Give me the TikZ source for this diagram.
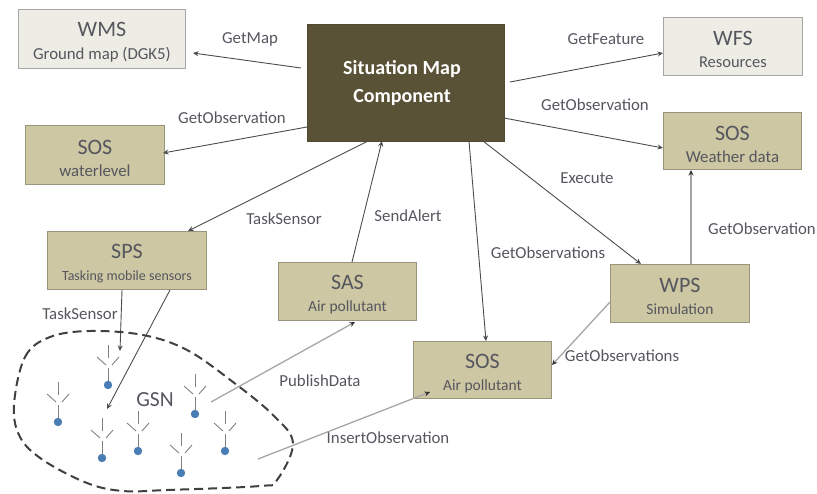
\documentclass[tikz,border=0pt]{standalone}
\usepackage{fontspec}
\setmainfont{Carlito}
\usetikzlibrary{arrows.meta}
\definecolor{tan}{HTML}{CDC7A3}
\definecolor{pale}{HTML}{EEEDE5}
\definecolor{dark}{HTML}{5A5236}
\definecolor{txt}{HTML}{55565E}
\definecolor{dot}{HTML}{4A7DB5}
\tikzset{x=1pt,y=-1pt,
 box/.style={draw=#1!75!black,line width=0.9pt,inner sep=0pt,align=center,text=txt,anchor=north west},
 tanbox/.style={box=tan,fill=tan},
 palebox/.style={box=pale,fill=pale,draw=black!35},
 lbl/.style={text=txt,font=\fontsize{16.8}{19}\selectfont,inner sep=0pt},
 conn/.style={draw=black!70,line width=0.9pt,-{Stealth[length=5.5pt,width=5pt]}},
 greyconn/.style={draw=black!35,line width=1.3pt,-{Stealth[length=5.5pt,width=5pt,black!80]}},
 ant/.style={draw=black!50,line width=0.9pt},
}
\newcommand{\boxtext}[3][15.5]{\rule{0pt}{21pt}\fontsize{22}{25}\selectfont #2\\[10pt]\fontsize{#1}{18}\selectfont #3}
\newcommand{\sensor}[3]{%
 \coordinate (#3) at (#1,#2);
 \fill[dot] (#1,#2) circle (4.2);
 \draw[ant] (#1,#2-4) -- (#1,#2-17);
 \draw[ant] (#1,#2-27) -- (#1,#2-40);
 \draw[ant] (#1-2,#2-20) -- (#1-11,#2-28);
 \draw[ant] (#1+4,#2-20) -- (#1+11,#2-28);
}
\begin{document}
\begin{tikzpicture}
\useasboundingbox (0,0) rectangle (817,493);
\node[palebox,minimum width=167pt,minimum height=59pt] (wms) at (18,9) {\boxtext[16.8]{WMS}{Ground map (DGK5)}};
\node[tanbox,minimum width=139pt,minimum height=59pt] (soswl) at (25,125) {\boxtext[16.8]{SOS}{waterlevel}};
\node[draw=dark!90!black,fill=dark,minimum width=197pt,minimum height=117pt,inner sep=0pt,anchor=north west] (sit) at (307,24) {};
\node[text=white,align=center,inner sep=0pt,font=\bfseries\fontsize{20}{27}\selectfont] (sittext) at (402,83) {Situation Map\\[1pt]Component};
\node[palebox,minimum width=139pt,minimum height=58pt] (wfs) at (663,17) {\boxtext[16.5]{WFS}{Resources}};
\node[tanbox,minimum width=138pt,minimum height=57pt] (sosw) at (663,112) {\boxtext[16.8]{SOS}{Weather data}};
\node[tanbox,minimum width=159pt,minimum height=58pt] (sps) at (47,231) {\boxtext[14]{SPS}{Tasking mobile sensors}};
\node[tanbox,minimum width=138pt,minimum height=58pt] (sas) at (278,262) {\boxtext{SAS}{Air pollutant}};
\node[tanbox,minimum width=138pt,minimum height=57pt] (sosa) at (413,341) {\boxtext{SOS}{Air pollutant}};
\node[tanbox,minimum width=139pt,minimum height=58pt] (wps) at (610,264) {\boxtext{WPS}{Simulation}};

\coordinate (a1) at (301,68); \coordinate (a2) at (193,53);
\draw[conn] (a1) -- (a2);
\coordinate (b1) at (307,127); \coordinate (b2) at (163,153);
\draw[conn] (b1) -- (b2);
\coordinate (c1) at (510,82); \coordinate (c2) at (663,53);
\draw[conn] (c1) -- (c2);
\coordinate (d1) at (504,118); \coordinate (d2) at (663,148);
\draw[conn] (d1) -- (d2);
\coordinate (e1) at (368,141); \coordinate (e2) at (188,231);
\draw[conn] (e1) -- (e2);
\coordinate (f1) at (352,262); \coordinate (f2) at (382,141);
\draw[conn] (f1) -- (f2);
\coordinate (g1) at (469,141); \coordinate (g2) at (486,341);
\draw[conn] (g1) -- (g2);
\coordinate (h1) at (483,141); \coordinate (h2) at (641,264);
\draw[conn] (h1) -- (h2);
\coordinate (i1) at (691,264); \coordinate (i2) at (691,170);
\draw[greyconn] (i1) -- (i2);
\coordinate (j1) at (610,302); \coordinate (j2) at (552,365);
\draw[greyconn] (j1) -- (j2);
\coordinate (k1) at (122,290); \coordinate (k2) at (120,351);
\draw[conn] (k1) -- (k2);
\coordinate (l1) at (170,290); \coordinate (l2) at (107,409);
\draw[conn] (l1) -- (l2);
\coordinate (m1) at (211,402); \coordinate (m2) at (355,322);
\draw[greyconn] (m1) -- (m2);
\coordinate (n1) at (258,459); \coordinate (n2) at (430,392);
\draw[greyconn] (n1) -- (n2);

\draw[line width=2pt,black!75,dash pattern=on 9pt off 5pt]
 plot[smooth cycle,tension=0.6] coordinates {(14,405) (25,357) (50,337) (90,331) (143,335) (187,350) (233,382) (273,415) (293,443) (277,480) (260,486) (167,490) (123,491) (87,483) (43,460) (20,437)};

\sensor{108}{385}{s1}
\sensor{58}{422}{s2}
\sensor{102}{458}{s3}
\sensor{138}{451}{s4}
\sensor{195}{414}{s5}
\sensor{225}{451}{s6}
\sensor{181}{473}{s7}

\node[lbl,font=\fontsize{21.5}{24}\selectfont] (gsn) at (155,400) {GSN};
\node[lbl] (l1n) at (250,39) {GetMap};
\node[lbl] (l2n) at (232,118) {GetObservation};
\node[lbl] (l3n) at (606,39) {GetFeature};
\node[lbl] (l4n) at (595,105) {GetObservation};
\node[lbl] (l5n) at (284,219) {TaskSensor};
\node[lbl] (l6n) at (408,216) {SendAlert};
\node[lbl] (l7n) at (548,253) {GetObservations};
\node[lbl] (l8n) at (587,178) {Execute};
\node[lbl] (l9n) at (762,229) {GetObservation};
\node[lbl] (l10n) at (622,356) {GetObservations};
\node[lbl] (l11n) at (80,314) {TaskSensor};
\node[lbl] (l12n) at (320,381) {PublishData};
\node[lbl] (l13n) at (388,438) {InsertObservation};
\end{tikzpicture}
\end{document}
